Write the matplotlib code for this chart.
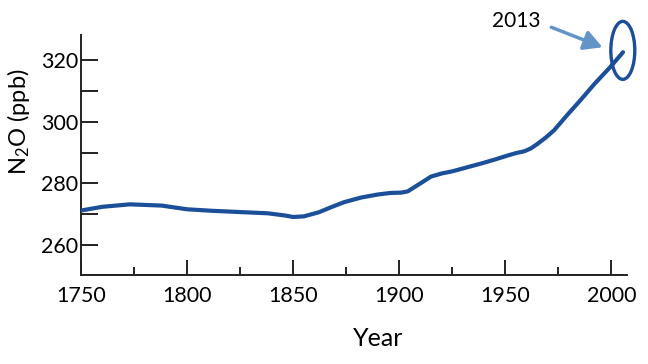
import matplotlib.pyplot as plt
from matplotlib.patches import Ellipse
from matplotlib.ticker import MultipleLocator

plt.rcParams['font.family'] = ['Lato', 'DejaVu Sans']
plt.rcParams['mathtext.fontset'] = 'custom'
plt.rcParams['mathtext.rm'] = 'Lato'
plt.rcParams['mathtext.default'] = 'regular'

# N2O concentration
years = [1750, 1760, 1773, 1788, 1800, 1812, 1825, 1838, 1846, 1850, 1855,
         1862, 1868, 1874, 1882, 1890, 1896, 1901, 1904, 1910, 1915, 1920,
         1925, 1932, 1939, 1945, 1951, 1955, 1959, 1962, 1965, 1969, 1973,
         1979, 1985.5, 1992, 1999.5, 2005.5]
n2o = [271.2, 272.4, 273.2, 272.8, 271.6, 271.1, 270.7, 270.3, 269.6, 269.1,
       269.3, 270.6, 272.3, 273.9, 275.4, 276.4, 276.9, 277.0, 277.4, 280.0,
       282.2, 283.2, 283.9, 285.2, 286.5, 287.7, 289.0, 289.8, 290.4, 291.3,
       292.7, 294.8, 297.2, 302.0, 307.0, 312.2, 317.7, 322.5]

line_color = '#1c4f9a'
arrow_color = '#6394c8'

fig = plt.figure(figsize=(6.48, 3.64), dpi=100)
ax = fig.add_axes([0.125, 0.2445, 0.843, 0.6595])

ax.plot(years, n2o, color=line_color, lw=3, solid_capstyle='round', zorder=3)

# circle around 2013 value
ax.add_patch(Ellipse((2005.4, 323.1), 11.3, 18.8, fill=False,
                     edgecolor=line_color, lw=2.4, clip_on=False, zorder=4))
ax.annotate('', xy=(1995.8, 324.1), xytext=(1971.7, 330.6),
            arrowprops=dict(arrowstyle='-|>,head_length=1.1,head_width=0.6',
                            color=arrow_color, lw=2.5, shrinkA=0, shrinkB=0),
            annotation_clip=False)
ax.text(1955, 332.5, '2013', fontsize=15, ha='center', va='center',
        clip_on=False)

ax.set_xlim(1750, 2007.5)
ax.set_ylim(250.3, 328.1)

ax.xaxis.set_major_locator(MultipleLocator(50))
ax.xaxis.set_minor_locator(MultipleLocator(25))
ax.yaxis.set_major_locator(MultipleLocator(20))
ax.yaxis.set_minor_locator(MultipleLocator(10))

ax.tick_params(axis='x', which='major', direction='in', length=11, width=1.4,
               labelsize=15.5, pad=8, color='#222222')
ax.tick_params(axis='x', which='minor', direction='in', length=6, width=1.4,
               color='#222222')
ax.tick_params(axis='y', which='both', direction='in', length=12, width=1.4,
               labelsize=15.5, pad=2, color='#222222')

for side in ['top', 'right']:
    ax.spines[side].set_visible(False)
for side in ['left', 'bottom']:
    ax.spines[side].set_linewidth(1.4)
    ax.spines[side].set_color('#222222')

ax.set_xlabel('Year', fontsize=18)
ax.xaxis.set_label_coords(0.544, -0.215)
ax.set_ylabel('N$_2$O (ppb)', fontsize=17)
ax.yaxis.set_label_coords(-0.09, 0.6375)

fig.savefig('out.png', dpi=100)
